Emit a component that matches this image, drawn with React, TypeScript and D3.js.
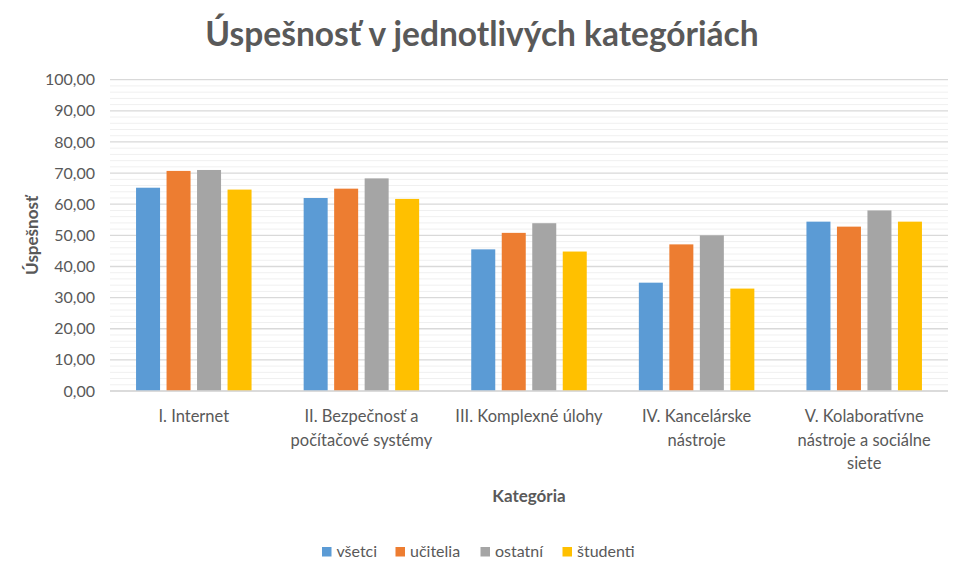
import React from "react";
import * as d3 from "d3";

const categories = [
  "I. Internet",
  "II. Bezpečnosť a\npočítačové systémy",
  "III. Komplexné úlohy",
  "IV. Kancelárske\nnástroje",
  "V. Kolaboratívne\nnástroje a sociálne\nsiete",
];
const seriesNames = ["všetci", "učitelia", "ostatní", "študenti"];
const vsetci = [65.3, 62.0, 45.5, 34.8, 54.4];
const ucitelia = [70.7, 65.0, 50.8, 47.1, 52.8];
const ostatni = [71.0, 68.3, 53.9, 50.0, 58.0];
const studenti = [64.7, 61.7, 44.8, 32.9, 54.4];
const seriesValues = [vsetci, ucitelia, ostatni, studenti];
const colors = ["#5B9BD5", "#ED7D31", "#A5A5A5", "#FFC000"];
const yTicks = [0, 10, 20, 30, 40, 50, 60, 70, 80, 90, 100];

const W = 962;
const H = 573;
const FONT = "Lato, 'Open Sans', sans-serif";
const TXT = "#595959";

export default function App() {
  const left = 110, right = 948, top = 79.7, bottom = 391;
  const x0 = d3.scaleBand<string>().domain(categories).range([left, right]).padding(0);
  const y = d3.scaleLinear().domain([0, 100]).range([bottom, top]);
  const groupHalf = 57.75;
  const x1 = d3.scaleBand<string>().domain(seriesNames).range([-groupHalf, groupHalf]).paddingInner(0.213).paddingOuter(0);
  const minor = d3.range(0, 101, 2).filter((v) => v % 10 !== 0);
  const fmt = (v: number) => v.toFixed(2).replace(".", ",");

  return (
    <svg width={W} height={H} style={{ position: "absolute", left: 0, top: 0, background: "#fff" }} fontFamily={FONT}>
      <rect x={0} y={0} width={W} height={H} fill="#fff" />
      <text x={482} y={46} textAnchor="middle" fontSize={33.5} fontWeight={700} fill={TXT}>
        Úspešnosť v jednotlivých kategóriách
      </text>
      {minor.map((v) => (
        <line key={"m" + v} x1={left} x2={right} y1={y(v)} y2={y(v)} stroke="#F0F0F0" strokeWidth={1} />
      ))}
      {yTicks.map((v) => (
        <line key={"g" + v} x1={left} x2={right} y1={y(v)} y2={y(v)} stroke="#D9D9D9" strokeWidth={1.3} />
      ))}
      {yTicks.map((v) => (
        <text key={"t" + v} x={95} y={y(v)} dy="0.35em" textAnchor="end" fontSize={16} fill={TXT}>
          {fmt(v)}
        </text>
      ))}
      {categories.map((c, ci) => {
        const cx = (x0(c) as number) + x0.bandwidth() / 2;
        return (
          <g key={c}>
            {seriesNames.map((s, si) => (
              <rect
                key={s}
                x={cx + (x1(s) as number)}
                y={y(seriesValues[si][ci])}
                width={x1.bandwidth()}
                height={bottom - y(seriesValues[si][ci])}
                fill={colors[si]}
              />
            ))}
            {c.split("\n").map((line, li) => (
              <text key={li} x={cx} y={422 + li * 23.5} textAnchor="middle" fontSize={16.5} fill={TXT}>
                {line}
              </text>
            ))}
          </g>
        );
      })}
      <line x1={left} x2={right} y1={bottom} y2={bottom} stroke="#D9D9D9" strokeWidth={1.3} />
      <text x={(left + right) / 2} y={502} textAnchor="middle" fontSize={17} fontWeight={700} fill={TXT}>
        Kategória
      </text>
      <text
        transform={`translate(38, ${(top + bottom) / 2}) rotate(-90)`}
        textAnchor="middle"
        fontSize={17}
        fontWeight={700}
        fill={TXT}
      >
        Úspešnosť
      </text>
      {seriesNames.map((s, i) => {
        const xs = [326.5, 400, 485, 567][i];
        return (
          <g key={s}>
            <rect x={xs - 4.5} y={547} width={9.5} height={9.5} fill={colors[i]} />
            <text x={xs + 10} y={551.7} dy="0.35em" fontSize={16} fill={TXT}>
              {s}
            </text>
          </g>
        );
      })}
    </svg>
  );
}
